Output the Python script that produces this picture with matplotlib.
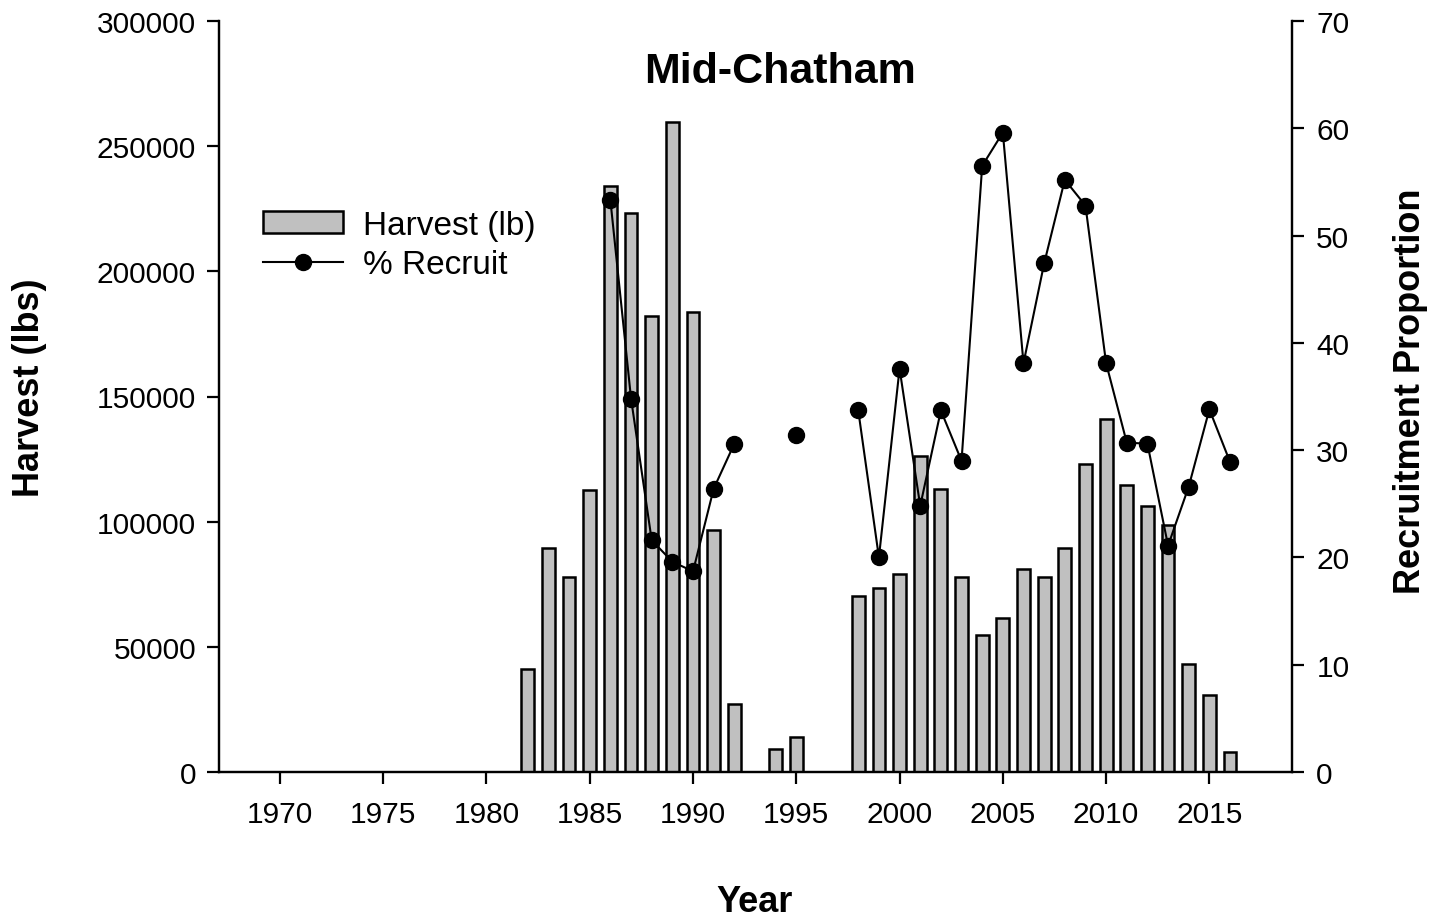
import numpy as np
import matplotlib
matplotlib.use("Agg")
import matplotlib.pyplot as plt
from matplotlib.patches import Patch
from matplotlib.lines import Line2D

plt.rcParams['font.family'] = ['Liberation Sans', 'DejaVu Sans']

years = list(range(1982, 2017))
nan = np.nan
# harvest in lbs (nan = no harvest recorded)
harvest = [41150, 89500, 77800, 112700, 234000, 223300, 182000, 259500, 183900, 96700,
           27200, nan, 9200, 14100, nan, nan, 70300, 73600, 79000, 126200,
           113000, 77900, 54700, 61500, 81100, 78000, 89500, 123200, 141100, 114500,
           106400, 98700, 43100, 30600, 7850]
# recruitment proportion (%)
recruit = [nan, nan, nan, nan, 53.3, 34.8, 21.6, 19.6, 18.7, 26.4,
           30.6, nan, nan, 31.4, nan, nan, 33.7, 20.0, 37.6, 24.8,
           33.7, 29.0, 56.5, 59.6, 38.1, 47.4, 55.2, 52.8, 38.1, 30.7,
           30.6, 21.1, 26.6, 33.8, 28.9]

xticks = list(range(1970, 2016, 5))
left_ticks = list(range(0, 300001, 50000))
right_ticks = list(range(0, 71, 10))

fig = plt.figure(figsize=(14.32, 9.2), dpi=100)
ax = fig.add_axes([219/1432, 1-773/920, (1292-219)/1432, (773-22)/920])
ax2 = ax.twinx()

yr = np.array(years)
hv = np.array(harvest, dtype=float)
ok = ~np.isnan(hv)
ax.bar(yr[ok], hv[ok], width=0.62, color='#c0c0c0', edgecolor='black', linewidth=1.8)
ax2.plot(years, recruit, color='black', lw=1.5, marker='o', ms=11.5)

ax.set_xlim(1967.05, 2019)
ax.set_ylim(0, 300000)
ax2.set_ylim(0, 70)
ax.set_xticks(xticks)
ax.set_yticks(left_ticks)
ax2.set_yticks(right_ticks)
ax.set_yticklabels([str(v) for v in left_ticks])

for a in (ax, ax2):
    a.spines['top'].set_visible(False)
    for s in a.spines.values():
        s.set_linewidth(1.6)
ax.tick_params(axis='both', direction='out', length=8.5, width=1.6, labelsize=21.5)
ax.tick_params(axis='x', pad=12)
ax.tick_params(axis='y', pad=8)
ax2.tick_params(axis='y', direction='out', length=8.5, width=1.6, labelsize=21.5, pad=9)

fig.text(780/1432, 1-72/920, 'Mid-Chatham', fontsize=31, fontweight='bold', ha='center', va='center')
fig.text(30/1432, 1-388/920, 'Harvest (lbs)', fontsize=26, fontweight='bold', rotation=90, ha='center', va='center')
fig.text(1410/1432, 1-391/920, 'Recruitment Proportion', fontsize=26, fontweight='bold', rotation=90, ha='center', va='center')
fig.text(755/1432, 1-903/920, 'Year', fontsize=26, fontweight='bold', ha='center', va='center')

handles = [Patch(facecolor='#c0c0c0', edgecolor='black', linewidth=1.8),
           Line2D([], [], color='black', lw=1.5, marker='o', ms=11.5)]
ax2.legend(handles, ['Harvest (lb)', '% Recruit'], loc='upper left',
           bbox_to_anchor=(263/1432, 1-211/920), bbox_transform=fig.transFigure,
           frameon=False, fontsize=24, borderpad=0, borderaxespad=0,
           handlelength=2.4, handleheight=0.65, handletextpad=0.6, labelspacing=0.25)

fig.savefig('out.png', dpi=100)
